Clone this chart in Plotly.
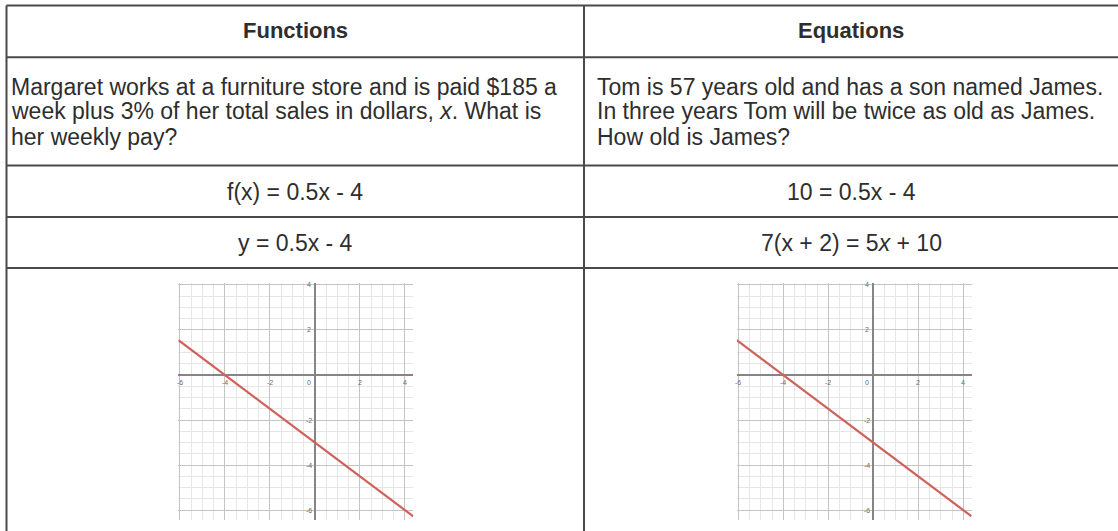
import plotly.graph_objects as go

W, H = 1118, 531

headers = ["Functions", "Equations"]
left_story = [
    "Margaret works at a furniture store and is paid $185 a",
    "week plus 3% of her total sales in dollars, <i>x</i>. What is",
    "her weekly pay?",
]
right_story = [
    "Tom is 57 years old and has a son named James.",
    "In three years Tom will be twice as old as James.",
    "How old is James?",
]
row_forms = ["f(x) = 0.5x - 4", "10 = 0.5x - 4"]
row_lines = ["y = 0.5x - 4", "7(x + 2) = 5<i>x</i> + 10"]

# graphed line
line_x = [-6.07, 4.37]
line_y = [1.55, -6.28]
x_ticks = [-6, -4, -2, 2, 4]
y_ticks = [4, 2, -2, -4, -6]

FONT = "Liberation Sans, Arial, sans-serif"
TXT = "#2e2e2e"
RULE = "#4a4a4a"


def px(x):
    return x / W


def py(y):
    return 1 - y / H


fig = go.Figure()

# table rules
col_l, col_m, col_r = 6.5, 584, 1118
rows = [5.5, 57.3, 165.5, 217, 268]
shapes = []
for r in rows:
    shapes.append(dict(type="line", xref="paper", yref="paper",
                       x0=px(col_l), x1=px(col_r), y0=py(r), y1=py(r),
                       line=dict(color=RULE, width=2)))
for c in [col_l, col_m]:
    shapes.append(dict(type="line", xref="paper", yref="paper",
                       x0=px(c), x1=px(c), y0=py(rows[0]), y1=py(H),
                       line=dict(color=RULE, width=2)))

ann = []
centers = [295, 851]
for i, h in enumerate(headers):
    ann.append(dict(text="<b>%s</b>" % h, x=px(centers[i]), y=py(31),
                    xref="paper", yref="paper", showarrow=False,
                    xanchor="center", yanchor="middle",
                    font=dict(family=FONT, size=22, color=TXT)))

line_ys = [86.5, 111.5, 136.5]
for txt, yy in zip(left_story, line_ys):
    ann.append(dict(text=txt, x=px(9), y=py(yy), xref="paper", yref="paper",
                    showarrow=False, xanchor="left", yanchor="middle",
                    font=dict(family=FONT, size=23, color=TXT)))
for txt, yy in zip(right_story, line_ys):
    ann.append(dict(text=txt, x=px(595), y=py(yy), xref="paper", yref="paper",
                    showarrow=False, xanchor="left", yanchor="middle",
                    font=dict(family=FONT, size=23, color=TXT)))

for i in range(2):
    ann.append(dict(text=row_forms[i], x=px(centers[i]), y=py(191.5),
                    xref="paper", yref="paper", showarrow=False,
                    xanchor="center", yanchor="middle",
                    font=dict(family=FONT, size=23, color=TXT)))
    ann.append(dict(text=row_lines[i], x=px(centers[i]), y=py(243),
                    xref="paper", yref="paper", showarrow=False,
                    xanchor="center", yanchor="middle",
                    font=dict(family=FONT, size=23, color=TXT)))

# the two little graphs
domains = [(178.4, 413.3), (736.7, 971.6)]
ydom = [py(520), py(283.3)]
for k, (a, b) in enumerate(domains):
    sfx = "" if k == 0 else str(k + 1)
    fig.add_trace(go.Scatter(x=line_x, y=line_y, mode="lines",
                             line=dict(color="#d0605a", width=2.2),
                             xaxis="x" + sfx, yaxis="y" + sfx,
                             showlegend=False, hoverinfo="skip"))
    ax = dict(range=[-6.07, 4.37], tick0=0, dtick=2, showgrid=True,
              gridcolor="#c4c4c4", gridwidth=1,
              minor=dict(tick0=0, dtick=0.5, showgrid=True,
                         gridcolor="#e6e6e6", gridwidth=1),
              zeroline=True, zerolinecolor="#858585", zerolinewidth=1.5,
              showticklabels=False, ticks="", showline=False,
              domain=[px(a), px(b)], anchor="y" + sfx)
    ay = dict(range=[-6.44, 4.07], tick0=0, dtick=2, showgrid=True,
              gridcolor="#c4c4c4", gridwidth=1,
              minor=dict(tick0=0, dtick=0.5, showgrid=True,
                         gridcolor="#e6e6e6", gridwidth=1),
              zeroline=True, zerolinecolor="#858585", zerolinewidth=1.5,
              showticklabels=False, ticks="", showline=False,
              domain=ydom, anchor="x" + sfx)
    fig.update_layout(**{"xaxis" + sfx: ax, "yaxis" + sfx: ay})
    tf = dict(family=FONT, size=7, color="#6a6a6a")
    for t in x_ticks:
        ann.append(dict(text=str(t), x=t, y=0, xref="x" + sfx, yref="y" + sfx,
                        showarrow=False, yshift=-8, font=tf))
    for t in y_ticks:
        ann.append(dict(text=str(t), x=0, y=t, xref="x" + sfx, yref="y" + sfx,
                        showarrow=False, xshift=-6, font=tf))
    ann.append(dict(text="0", x=0, y=0, xref="x" + sfx, yref="y" + sfx,
                    showarrow=False, xshift=-6, yshift=-8, font=tf))

fig.update_layout(width=W, height=H, margin=dict(l=0, r=0, t=0, b=0),
                  paper_bgcolor="white", plot_bgcolor="white",
                  shapes=shapes, annotations=ann, showlegend=False)

fig.write_html("out.html", config={"displayModeBar": False},
               post_script="document.body.style.margin='0';")
